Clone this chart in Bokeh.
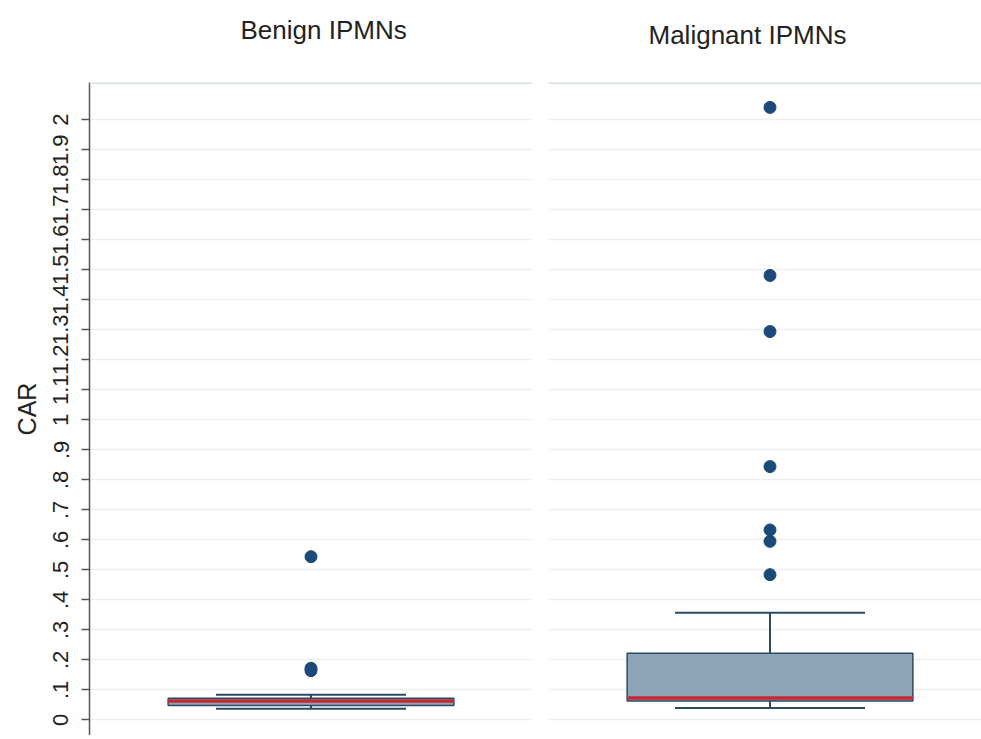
from bokeh.plotting import figure
from bokeh.layouts import row
from bokeh.models import FixedTicker, Range1d, Span, ColumnDataSource
from bokeh.embed import file_html
from bokeh.resources import INLINE

# ---- data ----
groups = ["Benign IPMNs", "Malignant IPMNs"]
q1 = [0.048, 0.063]
median = [0.063, 0.073]
q3 = [0.072, 0.222]
lower_whisker = [0.037, 0.040]
upper_whisker = [0.084, 0.357]
outliers = [
    [0.544, 0.172, 0.164],
    [2.041, 1.481, 1.294, 0.844, 0.633, 0.595, 0.484],
]
tick_values = [round(i * 0.1, 1) for i in range(21)]
tick_labels = ["0", ".1", ".2", ".3", ".4", ".5", ".6", ".7", ".8", ".9", "1",
               "1.1", "1.2", "1.3", "1.4", "1.5", "1.6", "1.7", "1.8", "1.9", "2"]
y_label = "CAR"

FONT = "Liberation Sans"
BOX_FILL = "#8ea4b9"
BOX_LINE = "#2c4a64"
MED = "#c42a32"
DOT = "#1b4a78"
GRID = "#eeeeee"

Y0, Y1 = -0.052, 2.124
CENTER = 0.5
BOX_W = 0.645
CAP_W = 0.429
H = 735

def panel(i, width, xr, left_border, show_y, title_standoff, title_offset):
    p = figure(width=width, height=H, output_backend="svg", toolbar_location=None,
               x_range=Range1d(*xr), y_range=Range1d(Y0, Y1),
               min_border_left=left_border, min_border_right=0,
               min_border_top=82, min_border_bottom=0,
               title=groups[i] + "\n ")
    p.title.align = "left"
    p.title.text_font = FONT
    p.title.text_font_size = "26px"
    p.title.text_font_style = "normal"
    p.title.text_color = "#222222"
    p.title.standoff = title_standoff
    p.title.offset = title_offset
    p.outline_line_color = None
    p.background_fill_color = "white"
    p.border_fill_color = "white"
    p.xaxis.visible = False
    p.xgrid.visible = False
    p.ygrid.ticker = FixedTicker(ticks=tick_values)
    p.ygrid.grid_line_color = GRID
    p.ygrid.grid_line_width = 1.5
    if show_y:
        ax = p.yaxis[0]
        ax.ticker = FixedTicker(ticks=tick_values)
        ax.major_label_overrides = {v: l for v, l in zip(tick_values, tick_labels)}
        ax.major_label_orientation = "vertical"
        ax.major_label_text_font = FONT
        ax.major_label_text_font_size = "22px"
        ax.major_label_text_color = "#222222"
        ax.major_label_standoff = 13
        ax.major_tick_out = 8
        ax.major_tick_in = 0
        ax.minor_tick_out = 0
        ax.minor_tick_in = 0
        ax.major_tick_line_color = "#555555"
        ax.major_tick_line_width = 1.5
        ax.axis_line_color = "#555555"
        ax.axis_line_width = 1.5
        ax.axis_label = y_label
        ax.axis_label_text_font = FONT
        ax.axis_label_text_font_size = "25px"
        ax.axis_label_text_font_style = "normal"
        ax.axis_label_text_color = "#222222"
        ax.axis_label_standoff = 10
    else:
        p.yaxis.visible = False

    # top border line
    p.add_layout(Span(location=Y1, dimension="width", line_color="#d3e0e4", line_width=3))

    # whiskers
    p.segment(x0=[CENTER, CENTER], y0=[q3[i], q1[i]], x1=[CENTER, CENTER],
              y1=[upper_whisker[i], lower_whisker[i]], line_color=BOX_LINE, line_width=2)
    p.segment(x0=[CENTER - CAP_W / 2] * 2, x1=[CENTER + CAP_W / 2] * 2,
              y0=[upper_whisker[i], lower_whisker[i]], y1=[upper_whisker[i], lower_whisker[i]],
              line_color=BOX_LINE, line_width=2)
    # box
    p.quad(left=[CENTER - BOX_W / 2], right=[CENTER + BOX_W / 2], bottom=[q1[i]], top=[q3[i]],
           fill_color=BOX_FILL, line_color=BOX_LINE, line_width=1.5)
    # median
    p.segment(x0=[CENTER - BOX_W / 2], x1=[CENTER + BOX_W / 2], y0=[median[i]], y1=[median[i]],
              line_color=MED, line_width=3.5)
    # outliers
    src = ColumnDataSource(dict(x=[CENTER] * len(outliers[i]), y=outliers[i]))
    p.scatter("x", "y", source=src, size=12, fill_color=DOT, line_color=DOT)
    return p

p1 = panel(0, 532, (0.0, 1.0), 89, True, 16, 151)
p2 = panel(1, 449, (0.0, 433 / 443), 16, False, 6, 100)

layout = row(p1, p2)
open("out.html", "w").write(file_html(layout, INLINE))
